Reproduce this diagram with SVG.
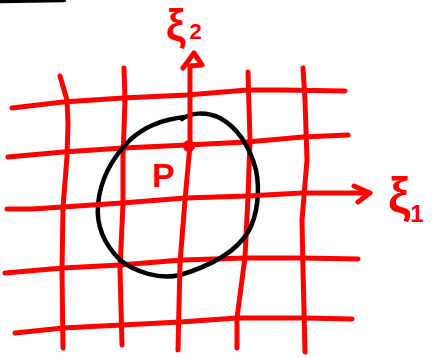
<svg xmlns="http://www.w3.org/2000/svg" width="433" height="358" viewBox="0 0 433 358">
<style>
.r{fill:none;stroke:#ff0000;stroke-width:5;stroke-linecap:round;stroke-linejoin:round}
.k{fill:none;stroke:#000;stroke-width:4.5;stroke-linecap:round;stroke-linejoin:round}
.t{fill:#ff0000;font-family:"Liberation Sans",sans-serif;font-weight:bold}
</style>
<rect width="433" height="358" fill="#fff"/>
<path class="k" d="M0,1 L64,0" stroke-width="6"/>
<g id="grid">
<polyline class="r" points="12,108 63,102 123,98 187,95 247,90 283,90 345,91"/>
<polyline class="r" points="8,157 63,152 123,148 187,145 247,142 303,137 348,135"/>
<polyline class="r" points="5,273 63,268 120,265 182,260 245,258 302,258 358,259"/>
<polyline class="r" points="15,333 63,328 122,325 180,322 237,318 305,318 352,319"/>
<polyline class="r" points="60,76 67,100 68,123 67,157 63,207 62,270 63,348"/>
<polyline class="r" points="124,68 125,100 123,157 123,203 120,270 122,345"/>
<polyline class="r" points="248,72 250,140 248,197 245,257 237,318 237,348"/>
<polyline class="r" points="303,68 305,100 307,160 302,220 303,270 305,352"/>
</g>
<g id="curve">
<path class="k" d="M182,119 C190,113 205,111 220,118 C238,128 250,148 256,170 C260,190 258,215 248,232 C236,252 210,266 180,275 C160,280 135,272 120,260 C105,245 96,228 98,205 C100,180 112,158 130,140 C145,126 165,119 185,117"/>
</g>
<g id="axis-xi1">
<polyline class="r" points="7,209 32,209 63,207 122,203 185,198 247,196 302,193 367,193"/>
<polyline class="r" points="354,186 370,193 358,202"/>
<text class="t" x="388" y="212" font-size="50">ξ<tspan font-size="24" dy="10">1</tspan></text>
</g>
<g id="axis-xi2">
<polyline class="r" points="178,350 180,263 185,200 190,145 190,66"/>
<polyline class="r" points="183,68 194,53 202,65 190,66"/>
<text class="t" x="166" y="40" font-size="44">ξ<tspan font-size="22" dx="4" dy="-1">2</tspan></text>
</g>
<g id="point-P">
<circle cx="189" cy="146" r="6" fill="#ff0000"/>
<text class="t" x="152" y="187" font-size="34">P</text>
</g>
</svg>
